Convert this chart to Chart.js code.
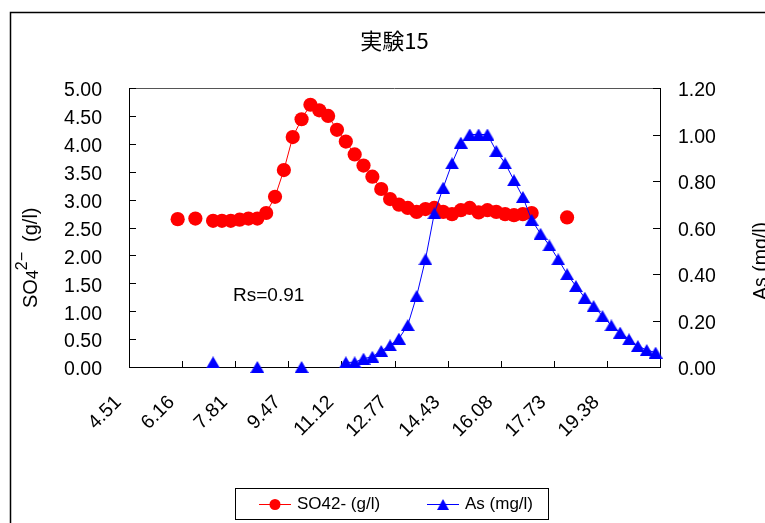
<!DOCTYPE html>
<html>
<head>
<meta charset="utf-8">
<script src="https://cdn.jsdelivr.net/npm/chart.js@4/dist/chart.umd.min.js"></script>
<style>
  html, body { margin: 0; padding: 0; background: #fff; }
  canvas { display: block; }
</style>
</head>
<body>
<canvas id="c" width="765" height="523"></canvas>
<script>
// Category axis: one label every six samples
const tickLabels = ['4.51', '6.16', '7.81', '9.47', '11.12', '12.77', '14.43', '16.08', '17.73', '19.38'];
const samplesPerTick = 6;
const sampleCount = 60;

// SO4 2- concentration (g/l); null = no measurement
const so4Values = [
  null, null, null, null, null, 2.65, null, 2.66, null, 2.62,
  2.62, 2.62, 2.64, 2.66, 2.66, 2.76, 3.05, 3.53, 4.12, 4.44,
  4.70, 4.60, 4.50, 4.25, 4.04, 3.81, 3.61, 3.41, 3.19, 3.01,
  2.91, 2.85, 2.78, 2.83, 2.85, 2.78, 2.74, 2.81, 2.85, 2.77,
  2.81, 2.78, 2.74, 2.72, 2.74, 2.76, null, null, null, 2.68,
  null, null, null, null, null, null, null, null, null, null
];

// As concentration (mg/l); null = no measurement
const asValues = [
  null, null, null, null, null, null, null, null, null, 0.02,
  null, null, null, null, 0.00, null, null, null, null, 0.00,
  null, null, null, null, 0.02, 0.02, 0.036, 0.044, 0.069, 0.093,
  0.122, 0.18, 0.305, 0.463, 0.661, 0.771, 0.876, 0.965, 1.00, 1.00,
  1.00, 0.929, 0.876, 0.803, 0.731, 0.633, 0.573, 0.523, 0.463, 0.399,
  0.348, 0.298, 0.262, 0.219, 0.179, 0.148, 0.119, 0.090, 0.073, 0.062
];

const categories = Array.from({ length: sampleCount }, (_, i) =>
  i % samplesPerTick === 0 ? tickLabels[i / samplesPerTick] : '');

const latinFont = "'Liberation Sans', Arial, sans-serif";
const cjkFont = "'Noto Sans CJK JP', sans-serif";
const RED = '#FF0000';
const BLUE = '#0000FF';

// Upward triangle marker centred on its bounding box
function triangleMarker(color, w, h) {
  const c = document.createElement('canvas');
  c.width = w; c.height = h;
  const g = c.getContext('2d');
  g.fillStyle = color;
  g.beginPath();
  g.moveTo(w / 2, 0);
  g.lineTo(w, h);
  g.lineTo(0, h);
  g.closePath();
  g.fill();
  return c;
}
const blueTriangle = triangleMarker(BLUE, 14, 12);

// Outer frame, inward tick marks, axis titles, annotation and boxed legend
const decorations = {
  id: 'decorations',
  beforeDraw(chart) {
    const ctx = chart.ctx;
    ctx.save();
    ctx.strokeStyle = '#000';
    ctx.lineWidth = 1.5;
    ctx.beginPath();
    ctx.moveTo(10.5, chart.height);
    ctx.lineTo(10.5, 12.5);
    ctx.lineTo(chart.width, 12.5);
    ctx.stroke();
    ctx.restore();
  },
  beforeDatasetsDraw(chart) {
    const { ctx, chartArea: a, scales } = chart;
    ctx.save();
    ctx.lineWidth = 1;
    // top edge of the plot frame
    ctx.strokeStyle = '#555';
    ctx.beginPath();
    ctx.moveTo(a.left, a.top + 0.5);
    ctx.lineTo(a.right, a.top + 0.5);
    ctx.stroke();
    ctx.strokeStyle = '#000';
    ctx.beginPath();
    scales.y.ticks.forEach(t => {
      const py = Math.round(scales.y.getPixelForValue(t.value)) + 0.5;
      ctx.moveTo(a.left, py); ctx.lineTo(a.left + 7, py);
    });
    scales.y1.ticks.forEach(t => {
      const py = Math.round(scales.y1.getPixelForValue(t.value)) + 0.5;
      ctx.moveTo(a.right, py); ctx.lineTo(a.right - 7, py);
    });
    const x = scales.x;
    const half = (x.getPixelForValue(1) - x.getPixelForValue(0)) / 2;
    for (let i = 0; i <= sampleCount; i += samplesPerTick) {
      const px = Math.round(x.getPixelForValue(i) - half) + 0.5;
      ctx.moveTo(px, a.bottom); ctx.lineTo(px, a.bottom - 6);
    }
    ctx.stroke();
    ctx.restore();
  },
  afterDraw(chart) {
    const { ctx } = chart;
    ctx.save();
    ctx.fillStyle = '#000';
    ctx.textBaseline = 'alphabetic';

    // left axis title: SO4(2-) (g/l), rotated
    ctx.save();
    ctx.translate(37, 308);
    ctx.rotate(-Math.PI / 2);
    let cx = 0;
    const piece = (txt, size, dy) => {
      ctx.font = size + 'px ' + latinFont;
      ctx.fillText(txt, cx, dy);
      cx += ctx.measureText(txt).width;
    };
    piece('SO', 20, 0);
    piece('4', 16, 1);
    piece('2\u2212', 16, -10);
    piece('\u2002(g/l)', 20, 0);
    ctx.restore();

    // right axis title
    ctx.save();
    ctx.translate(767, 300);
    ctx.rotate(-Math.PI / 2);
    ctx.font = '19.5px ' + latinFont;
    ctx.fillText('As (mg/l)', 0, 0);
    ctx.restore();

    // annotation
    ctx.font = '19px ' + latinFont;
    ctx.fillText('Rs=0.91', 233, 301);

    // legend box
    const box = { x: 235.5, y: 488.5, w: 313, h: 31 };
    ctx.strokeStyle = '#000';
    ctx.lineWidth = 1;
    ctx.strokeRect(box.x, box.y, box.w, box.h);
    const ly = box.y + box.h / 2 + 0.5;
    const items = chart.data.datasets.map((d, i) => ({ d, x0: i === 0 ? 259 : 427 }));
    items.forEach(({ d, x0 }) => {
      ctx.strokeStyle = d.borderColor;
      ctx.lineWidth = 1;
      ctx.beginPath();
      ctx.moveTo(x0, ly); ctx.lineTo(x0 + 32, ly);
      ctx.stroke();
      const mx = x0 + 16;
      if (d.pointStyle === 'circle') {
        ctx.fillStyle = d.backgroundColor;
        ctx.beginPath();
        ctx.arc(mx, ly, 5.5, 0, Math.PI * 2);
        ctx.fill();
      } else {
        ctx.drawImage(d.pointStyle, mx - 6, ly - 5.5, 12, 11);
      }
      ctx.fillStyle = '#000';
      ctx.font = '17px ' + latinFont;
      ctx.textBaseline = 'middle';
      ctx.fillText(d.label, x0 + 38, ly);
    });
    ctx.restore();
  }
};

new Chart(document.getElementById('c'), {
  type: 'line',
  data: {
    labels: categories,
    datasets: [
      {
        label: 'SO42- (g/l)',
        data: so4Values,
        yAxisID: 'y',
        borderColor: RED,
        backgroundColor: RED,
        borderWidth: 1,
        pointStyle: 'circle',
        pointRadius: 7.1,
        pointBorderWidth: 0,
        spanGaps: false,
        clip: false,
        order: 2
      },
      {
        label: 'As (mg/l)',
        data: asValues,
        yAxisID: 'y1',
        borderColor: BLUE,
        backgroundColor: BLUE,
        borderWidth: 1,
        pointStyle: blueTriangle,
        pointRadius: 7,
        spanGaps: false,
        clip: false,
        order: 1
      }
    ]
  },
  options: {
    responsive: false,
    animation: false,
    events: [],
    layout: { padding: 0 },
    plugins: {
      legend: { display: false },
      tooltip: { enabled: false },
      title: {
        display: true,
        text: '実験15',
        fullSize: false,
        color: '#000',
        font: { family: cjkFont, size: 22, weight: 'normal', lineHeight: 1.2 },
        padding: { top: 27, bottom: 34.6 }
      }
    },
    scales: {
      x: {
        type: 'category',
        offset: true,
        grid: { display: false, drawTicks: false },
        border: { display: true, color: '#000', width: 1 },
        ticks: {
          autoSkip: false,
          minRotation: 45,
          maxRotation: 45,
          color: '#000',
          padding: 24,
          labelOffset: -15,
          font: { family: latinFont, size: 19.5 }
        },
        afterFit(s) { s.height = 156; }
      },
      y: {
        position: 'left',
        min: 0,
        max: 5,
        grid: { display: false, drawTicks: false },
        border: { display: true, color: '#000', width: 1 },
        ticks: {
          stepSize: 0.5,
          color: '#000',
          padding: 27,
          labelOffset: 3,
          font: { family: latinFont, size: 19.5 },
          callback: v => v.toFixed(2)
        },
        afterFit(s) { s.width = 129; }
      },
      y1: {
        position: 'right',
        min: 0,
        max: 1.2,
        grid: { display: false, drawTicks: false },
        border: { display: true, color: '#000', width: 1 },
        ticks: {
          stepSize: 0.2,
          color: '#000',
          padding: 18,
          labelOffset: 3,
          font: { family: latinFont, size: 19.5 },
          callback: v => v.toFixed(2)
        },
        afterFit(s) { s.width = 105; }
      }
    }
  },
  plugins: [decorations]
});
</script>
</body>
</html>
